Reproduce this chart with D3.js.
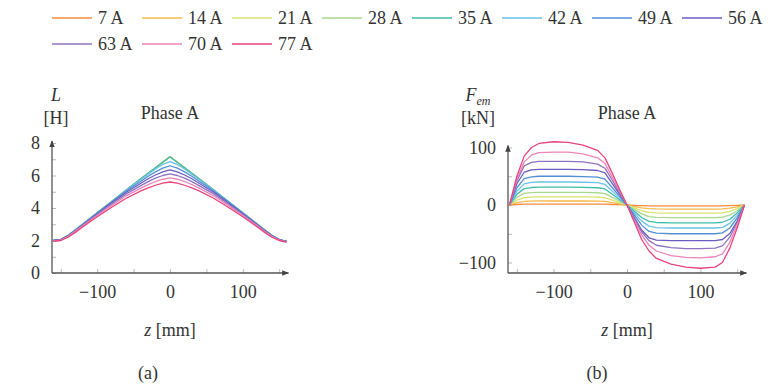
<!DOCTYPE html>
<html><head><meta charset="utf-8">
<script src="https://cdn.jsdelivr.net/npm/d3@7"></script>
<style>
body{margin:0;background:#fff;}
svg{display:block;}
text{font-family:"Liberation Serif","DejaVu Serif",serif;fill:#333;}
</style></head>
<body>
<svg id="c" width="768" height="386"></svg>
<script>
// ---- data ----
const currents = ["7 A","14 A","21 A","28 A","35 A","42 A","49 A","56 A","63 A","70 A","77 A"];
const colors = ["#f28c3c","#f5b84a","#d9e26e","#a8d98e","#3fbcab","#6cc2e8","#4f8fd6","#6a5cc0","#8e72c2","#ec86b8","#e8447a"];
const zPos = [-160,-150,-140,-130,-120,-100,-80,-60,-40,-30,-20,-10,0,10,20,30,40,60,80,100,120,130,140,150,160];

const L7  = [2.0,2.05,2.3,2.65,3.0,3.7,4.4,5.1,5.8,6.14,6.48,6.82,7.15,6.82,6.48,6.14,5.8,5.1,4.4,3.7,3.0,2.65,2.3,2.05,1.95];
const L14 = [2.0,2.05,2.3,2.65,3.0,3.7,4.4,5.1,5.8,6.14,6.48,6.82,7.15,6.82,6.48,6.14,5.8,5.1,4.4,3.7,3.0,2.65,2.3,2.05,1.95];
const L21 = [2.0,2.05,2.3,2.65,3.0,3.7,4.4,5.1,5.8,6.14,6.48,6.82,7.15,6.82,6.48,6.14,5.8,5.1,4.4,3.7,3.0,2.65,2.3,2.05,1.95];
const L28 = [2.0,2.05,2.3,2.65,3.0,3.7,4.4,5.1,5.8,6.14,6.48,6.82,7.14,6.82,6.48,6.14,5.8,5.1,4.4,3.7,3.0,2.65,2.3,2.05,1.95];
const L35 = [2.0,2.05,2.3,2.65,3.0,3.7,4.4,5.1,5.8,6.14,6.48,6.82,7.15,6.82,6.48,6.14,5.8,5.1,4.4,3.7,3.0,2.65,2.3,2.05,1.95];
const L42 = [2.0,2.05,2.3,2.65,3.0,3.7,4.4,5.1,5.75,6.08,6.4,6.68,6.85,6.68,6.4,6.08,5.75,5.1,4.4,3.7,3.0,2.65,2.3,2.05,1.95];
const L49 = [2.0,2.05,2.3,2.64,2.98,3.68,4.37,5.05,5.65,5.95,6.22,6.45,6.6,6.45,6.22,5.95,5.65,5.05,4.37,3.68,2.98,2.64,2.3,2.05,1.95];
const L56 = [2.0,2.05,2.28,2.62,2.96,3.65,4.32,4.97,5.52,5.8,6.03,6.22,6.35,6.22,6.03,5.8,5.52,4.97,4.32,3.65,2.96,2.62,2.28,2.05,1.95];
const L63 = [1.98,2.03,2.26,2.6,2.93,3.6,4.25,4.87,5.38,5.62,5.84,6.0,6.1,6.0,5.84,5.62,5.38,4.87,4.25,3.6,2.93,2.6,2.26,2.03,1.93];
const L70 = [1.97,2.02,2.24,2.56,2.89,3.54,4.16,4.75,5.22,5.44,5.63,5.77,5.85,5.77,5.63,5.44,5.22,4.75,4.16,3.54,2.89,2.56,2.24,2.02,1.92];
const L77 = [1.95,2.0,2.2,2.5,2.83,3.46,4.05,4.6,5.05,5.24,5.4,5.53,5.6,5.53,5.4,5.24,5.05,4.6,4.05,3.46,2.83,2.5,2.2,2.0,1.9];

const F7  = [0,0.9,1.4,1.5,1.5,1.5,1.5,1.5,1.5,1.4,0.9,0.5,0,-0.5,-1,-1.4,-1.5,-1.5,-1.5,-1.5,-1.5,-1.5,-1.2,-0.7,0];
const F14 = [0,4.2,6.4,6.9,7,7,7,7,6.8,6.3,4.2,2.1,0,-2.5,-4.9,-6.4,-6.9,-7,-7,-7,-7,-6.8,-5.6,-3.2,0];
const F21 = [0,8.4,12.9,13.7,14,14,14,14,13.6,12.6,8.4,4.2,0,-4.9,-9.8,-12.9,-13.7,-14,-14,-14,-14,-13.6,-11.2,-6.3,0];
const F28 = [0,13.2,20.2,21.6,22,22,22,22,21.3,19.8,13.2,6.6,0,-7.7,-15.4,-20.2,-21.6,-22,-22,-22,-22,-21.3,-17.6,-9.9,0];
const F35 = [0,18.6,28.5,30.4,31,31,31,30.8,30,27.9,18.6,9.3,0,-10.9,-21.7,-28.5,-30.4,-31,-31,-31,-31,-30,-24.8,-14,0];
const F42 = [0,24,36.8,39.2,40,40,40,39.6,38.8,36,24,12,0,-14,-28,-36.8,-39.2,-40,-40,-40,-40,-38.8,-32,-18,0];
const F49 = [0,30,46,49,50,50,50,49.5,48.5,45,30,15,0,-17.5,-35,-46,-49,-50,-50,-50,-50,-48.5,-40,-22.5,0];
const F56 = [0,37,57,61,62,62,62,61.5,60,55.8,37.2,18.6,0,-21.7,-43.4,-57,-61,-62,-62,-62,-62,-60,-49.6,-28,0];
const F63 = [0,42,68,74,76,76,76,75,71,64,43,21,0,-24,-47,-62,-70,-74,-76,-76,-75,-71,-56,-30,0];
const F70 = [0,45,75,87,91,92,92,89,82,72,48,24,0,-27,-52,-70,-80,-88,-91,-92,-90,-85,-65,-35,0];
const F77 = [0,50,85,100,107,110,109,104,95,82,55,27,0,-30,-60,-80,-93,-103,-108,-110,-108,-100,-75,-40,0];

const Lseries = [L7,L14,L21,L28,L35,L42,L49,L56,L63,L70,L77];
const Fseries = [F7,F14,F21,F28,F35,F42,F49,F56,F63,F70,F77];

const xTicks = [-150,-100,-50,0,50,100,150];
const LTicks = [0,1,2,3,4,5,6,7,8];
const FTicks = [-100,-50,0,50,100];

// ---- drawing ----
const svg = d3.select("#c");
const defs = svg.append("defs");
defs.append("marker").attr("id","arr").attr("viewBox","0 0 10 10").attr("refX",9).attr("refY",5)
  .attr("markerWidth",7).attr("markerHeight",7).attr("orient","auto-start-reverse").attr("markerUnits","userSpaceOnUse")
  .append("path").attr("d","M0,1 L10,5 L0,9 Z").attr("fill","#444");

// legend
const leg = svg.append("g");
currents.forEach((c,i)=>{
  const row = i<8?0:1, col = i<8?i:i-8;
  const x0 = 52 + col*90, y0 = row===0?18:44;
  leg.append("line").attr("x1",x0).attr("x2",x0+40).attr("y1",y0).attr("y2",y0)
    .attr("stroke",colors[i]).attr("stroke-width",1.6);
  leg.append("text").attr("x",x0+46).attr("y",y0+6).attr("font-size",18).text(c);
});

function panel(cfg){
  const g = svg.append("g");
  const x = d3.scaleLinear().domain([-160,160]).range(cfg.xr);
  const y = d3.scaleLinear().domain(cfg.yd).range(cfg.yr);
  const xAxisY = cfg.xAxisY;
  const ax = g.append("g").attr("transform",`translate(0,${xAxisY})`)
    .call(d3.axisBottom(x).tickValues(xTicks).tickSizeInner(-4).tickSizeOuter(0).tickPadding(12)
      .tickFormat(d=> d%100===0 ? d3.format("")(d) : ""));
  ax.select(".domain").remove();
  ax.selectAll(".tick line").attr("stroke","#bbb");
  ax.selectAll(".tick text").attr("font-size",18).attr("font-family","Liberation Serif, serif").attr("fill","#3a3a3a");
  const ay = g.append("g").attr("transform",`translate(${cfg.xr[0]-1.5},0)`)
    .call(d3.axisLeft(y).tickValues(cfg.yTicks).tickSizeInner(-4).tickSizeOuter(0).tickPadding(12)
      .tickFormat(cfg.yFmt));
  ay.select(".domain").remove();
  ay.selectAll(".tick line").attr("stroke","#bbb");
  ay.selectAll(".tick text").attr("font-size",18).attr("font-family","Liberation Serif, serif").attr("fill","#3a3a3a");
  g.append("line").attr("x1",cfg.xr[0]-1.5).attr("x2",cfg.xr[1]+2).attr("y1",xAxisY).attr("y2",xAxisY)
    .attr("stroke","#555").attr("stroke-width",1.3).attr("marker-end","url(#arr)");
  g.append("line").attr("x1",cfg.xr[0]-1.5).attr("x2",cfg.xr[0]-1.5).attr("y1",xAxisY).attr("y2",y(cfg.yTop)-2)
    .attr("stroke","#555").attr("stroke-width",1.3).attr("marker-end","url(#arr)");
  const line = d3.line().x((d,i)=>x(zPos[i])).y(d=>y(d));
  cfg.series.forEach((s,i)=>{
    g.append("path").attr("d",line(s)).attr("fill","none").attr("stroke",colors[i])
      .attr("stroke-width",1.3).attr("stroke-linejoin","round");
  });
  g.append("text").attr("x",x(0)).attr("y",119).attr("text-anchor","middle").attr("font-size",18).text("Phase A");
  const xl = g.append("text").attr("x",x(0)).attr("y",336).attr("text-anchor","middle").attr("font-size",18);
  xl.append("tspan").attr("font-style","italic").text("z");
  xl.append("tspan").text(" [mm]");
  g.append("text").attr("x",cfg.capX).attr("y",379).attr("text-anchor","middle").attr("font-size",18).text(cfg.cap);
  return {g,x,y};
}

const p1 = panel({xr:[53.5,286.5], yd:[0,8], yr:[273,143], xAxisY:273, yTicks:LTicks, yTop:8,
  yFmt:d=> d%2===0 ? d : "", series:Lseries, cap:"(a)", capX:148});
const t1 = p1.g.append("text").attr("x",56).attr("y",101).attr("text-anchor","middle").attr("font-size",18);
t1.append("tspan").attr("font-style","italic").text("L");
p1.g.append("text").attr("x",56).attr("y",124).attr("text-anchor","middle").attr("font-size",18).text("[H]");

const p2 = panel({xr:[509.5,744.5], yd:[-100,100], yr:[262.5,147.5], xAxisY:273, yTicks:FTicks, yTop:100,
  yFmt:d=> d%100===0 ? d3.format("")(d) : "", series:Fseries, cap:"(b)", capX:597});
const t2 = p2.g.append("text").attr("x",478).attr("y",101).attr("text-anchor","middle").attr("font-size",18);
t2.append("tspan").attr("font-style","italic").text("F");
t2.append("tspan").attr("font-style","italic").attr("font-size",12).attr("dy",4).text("em");
p2.g.append("text").attr("x",478).attr("y",124).attr("text-anchor","middle").attr("font-size",18).text("[kN]");
</script>
</body></html>
